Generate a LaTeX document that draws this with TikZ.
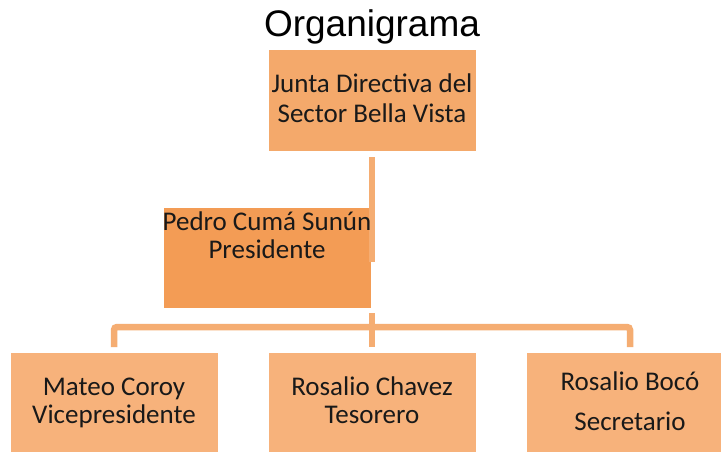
\documentclass[tikz,border=0pt]{standalone}
\usepackage{fontspec}
\setmainfont{Carlito}
\newfontfamily\titlefont{Liberation Sans}
\definecolor{boxA}{HTML}{F4A96B}
\definecolor{boxP}{HTML}{F39C55}
\definecolor{boxB}{HTML}{F7B27B}
\definecolor{lineC}{HTML}{F5AD72}
\tikzset{
  orgbox/.style={draw=white, line width=1pt, inner sep=0pt, anchor=north west},
  lbl/.style={font=\fontsize{27}{30}\selectfont, text=black!90, align=center, inner sep=0pt, anchor=base},
  conn/.style={draw=lineC, line width=6.5pt, rounded corners=3pt}
}
\begin{document}
\begin{tikzpicture}[x=1pt,y=-1pt]
\useasboundingbox (0,0) rectangle (721,451);
\fill[white] (0,0) rectangle (721,451);
\begin{scope}
\clip (0,0) rectangle (721,451);
% title
\node[font=\titlefont\fontsize{37}{40}\selectfont, anchor=base] (title) at (372,36) {Organigrama};
% boxes
\node[orgbox, fill=boxA, minimum width=208pt, minimum height=102pt] (junta) at (268,49) {};
\node[orgbox, fill=boxP, minimum width=208pt, minimum height=101pt] (pres) at (163,207) {};
\node[orgbox, fill=boxB, minimum width=208pt, minimum height=110pt] (vice) at (10,352) {};
\node[orgbox, fill=boxB, minimum width=208pt, minimum height=110pt] (teso) at (268,352) {};
\node[orgbox, fill=boxB, minimum width=208pt, minimum height=110pt] (secr) at (526,352) {};
% connectors
\coordinate (c1) at (372,157);
\coordinate (c2) at (372,262);
\coordinate (c3) at (372,313);
\coordinate (bar) at (372,327);
\coordinate (dl) at (114,347);
\coordinate (dm) at (372,347);
\coordinate (dr) at (630,347);
\draw[conn] (c1) -- (c2);
\draw[conn] (c3) -- (dm);
\draw[conn] (dl) -- (dl |- bar) -- (dr |- bar) -- (dr);
% labels
\node[lbl] (tj1) at (372,92) {Junta Directiva del};
\node[lbl] (tj2) at (372,122) {Sector Bella Vista};
\node[lbl] (tp1) at (267,230) {Pedro Cumá Sunún};
\node[lbl] (tp2) at (267,258) {Presidente};
\node[lbl] (tv1) at (114,395) {Mateo Coroy};
\node[lbl] (tv2) at (114,423) {Vicepresidente};
\node[lbl] (tt1) at (372,395) {Rosalio Chavez};
\node[lbl] (tt2) at (372,423) {Tesorero};
\node[lbl] (ts1) at (630,390) {Rosalio Bocó};
\node[lbl] (ts2) at (630,430) {Secretario};
\end{scope}
\end{tikzpicture}
\end{document}
